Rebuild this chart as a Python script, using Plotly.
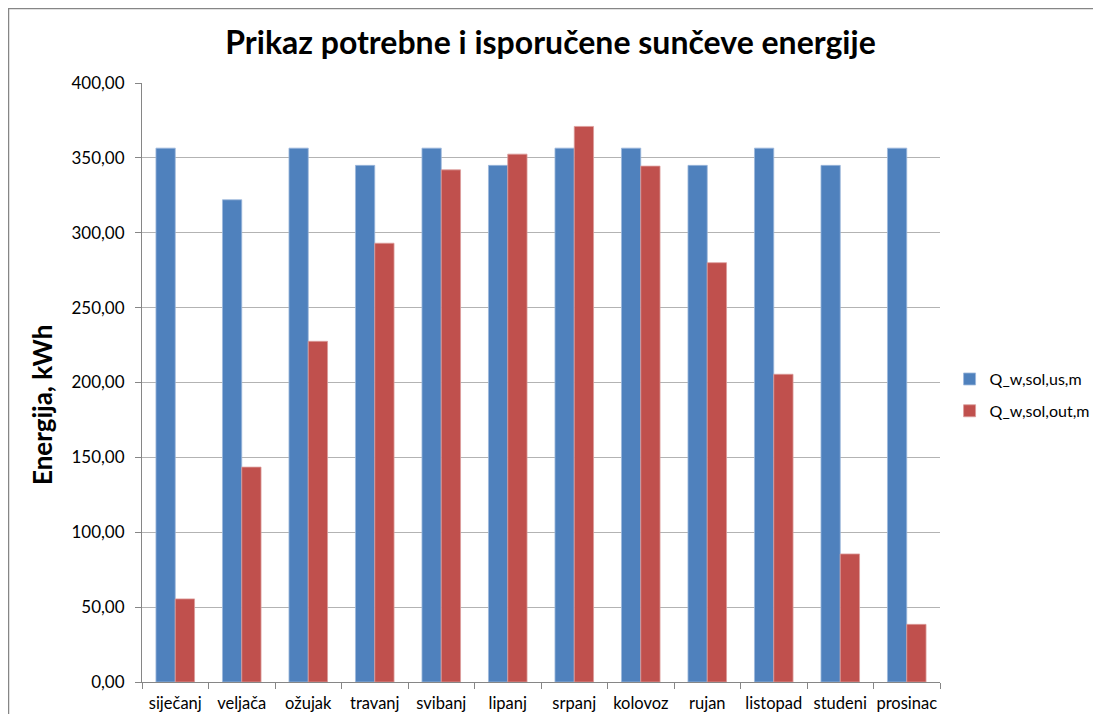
import plotly.graph_objects as go

months = ["siječanj", "veljača", "ožujak", "travanj", "svibanj", "lipanj",
          "srpanj", "kolovoz", "rujan", "listopad", "studeni", "prosinac"]
q_us = [356.5, 322.0, 356.5, 345.0, 356.5, 345.0, 356.5, 356.5, 345.0, 356.5, 345.0, 356.5]
q_out = [55.5, 143.5, 227.5, 293.0, 342.0, 352.5, 371.0, 344.5, 280.0, 205.5, 85.5, 38.5]
y_ticks = [0, 50, 100, 150, 200, 250, 300, 350, 400]

FONT = "Lato, Open Sans, sans-serif"

fig = go.Figure()
fig.add_trace(go.Bar(x=months, y=q_us, name="Q_w,sol,us,m", legendgroup="a",
                     marker=dict(color="#4F81BD", line=dict(color="#9DB7DC", width=0.8))))
fig.add_trace(go.Bar(x=months, y=q_out, name="Q_w,sol,out,m", legendgroup="b",
                     marker=dict(color="#C0504D", line=dict(color="#DC9C9A", width=0.8))))

fig.update_layout(
    width=1085, height=706,
    margin=dict(l=134, r=153, t=75, b=32, autoexpand=False),
    paper_bgcolor="white", plot_bgcolor="white",
    separators=",.",
    barmode="group", bargap=0.42, bargroupgap=0,
    font=dict(family=FONT, color="#000000", size=17),
    title=dict(text="<b>Prikaz potrebne i isporučene sunčeve energije</b>",
               x=0.5, xanchor="center", xref="container", y=0.9504, yanchor="middle",
               font=dict(family=FONT, size=32, color="#000000")),
    legend=dict(x=1.012, xanchor="left", y=0.479, yanchor="middle",
                font=dict(family=FONT, size=16), tracegroupgap=8,
                traceorder="grouped", itemwidth=30),
    xaxis=dict(type="category", tickson="boundaries", ticks="outside", ticklen=6,
               tickcolor="#868686", showline=True, linecolor="#868686", linewidth=1,
               showgrid=False, tickangle=0, ticklabelstandoff=6,
               tickfont=dict(size=16.5, family=FONT)),
    yaxis=dict(range=[0, 400], tickvals=y_ticks, tickformat=".2f",
               ticks="outside", ticklen=6, tickcolor="#868686",
               showline=True, linecolor="#868686", linewidth=1,
               showgrid=True, gridcolor="#B3B3B3", gridwidth=1,
               zeroline=False, tickfont=dict(size=17, family=FONT),
               ticklabelstandoff=7),
    annotations=[dict(text="<b>Energija, kWh</b>", xref="paper", yref="paper",
                      x=-0.1253, y=0.4624, xanchor="center", yanchor="middle",
                      textangle=-90, showarrow=False,
                      font=dict(family=FONT, size=26, color="#000000"))],
    shapes=[dict(type="rect", xref="paper", yref="paper",
                 x0=-0.1673, x1=1.4, y0=-0.2, y1=1.1245,
                 line=dict(color="#868686", width=1.5), fillcolor="rgba(0,0,0,0)",
                 layer="below")],
)

fig.write_html("out.html")
